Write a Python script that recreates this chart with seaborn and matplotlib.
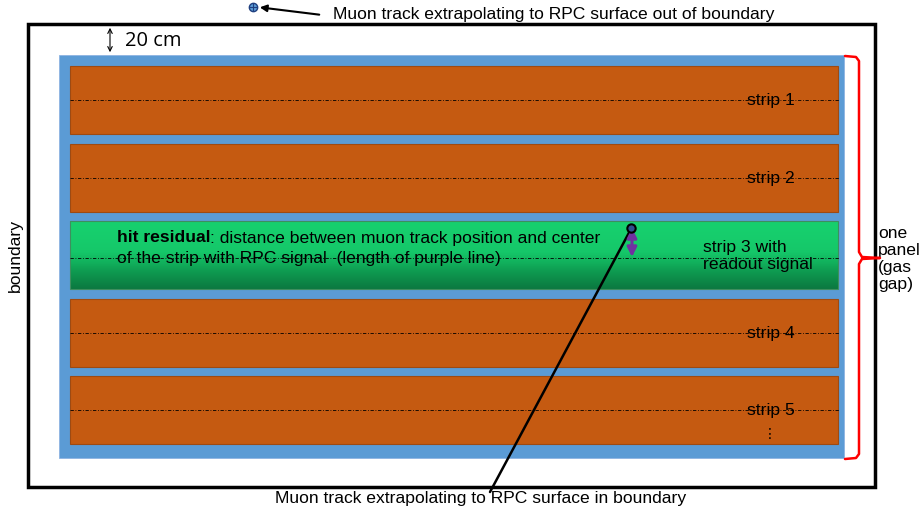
import numpy as np
import matplotlib.pyplot as plt
import seaborn as sns
from matplotlib.patches import Rectangle, FancyArrowPatch
from matplotlib.colors import LinearSegmentedColormap

sns.set_theme(style="white")
plt.rcParams['font.family'] = ['Liberation Sans', 'DejaVu Sans']
plt.rcParams['text.color'] = 'black'

# strip labels, top to bottom; the one with readout signal is highlighted
strip_labels = ["strip 1", "strip 2", "strip 3 with\nreadout signal", "strip 4", "strip 5"]
readout_strip = 2
hit_text_bold = "hit residual"
hit_text = [": distance between muon track position and center",
            "of the strip with RPC signal  (length of purple line)"]
top_note = "Muon track extrapolating to RPC surface out of boundary"
bottom_note = "Muon track extrapolating to RPC surface in boundary"
panel_note = "one\npanel\n(gas\ngap)"

ORANGE = "#C55A11"
BLUE = "#5B9BD5"
PURPLE = "#7030A0"
FS = 12.6

fig = plt.figure(figsize=(9.24, 5.13), dpi=100)
ax = fig.add_axes([0, 0, 1, 1])
ax.set_xlim(0, 924)
ax.set_ylim(513, 0)
ax.axis("off")

# outer boundary
ax.add_patch(Rectangle((28, 24), 847, 463, fill=False, ec="black", lw=2.5, zorder=1))
# blue panel
ax.add_patch(Rectangle((59, 55), 785, 403, fc=BLUE, ec="#8DB4E2", lw=0.6, zorder=2))

# strips
x0, x1 = 70, 838
first_top, pitch, height = 66, 77.5, 68
green = LinearSegmentedColormap.from_list("g", ["#17D06E", "#15C769", "#0E9A50", "#0B7840"])
for i, lab in enumerate(strip_labels):
    top = first_top + i * pitch
    mid = top + height / 2 + (3 if i == readout_strip else 0)
    if i == readout_strip:
        grad = np.linspace(0, 1, 100).reshape(-1, 1) ** 1.4
        ax.imshow(grad, cmap=green, extent=(x0, x1, top + height, top),
                  aspect="auto", zorder=3)
        ax.add_patch(Rectangle((x0, top), x1 - x0, height, fill=False,
                               ec="#3E8E5E", lw=0.8, zorder=4))
        ax.text(703, mid - 2, lab, fontsize=FS, va="center", ha="left",
                linespacing=1.2, zorder=6)
    else:
        ax.add_patch(Rectangle((x0, top), x1 - x0, height, fc=ORANGE,
                               ec="#9E4A12", lw=0.8, zorder=3))
        ax.text(747, mid + 1, lab, fontsize=FS, va="center", ha="left", zorder=6)
    ax.plot([x0, x1 + 2], [mid, mid], color="black", lw=0.6,
            ls=(0, (4, 2, 1, 2)), zorder=5)

# vertical dots under strip 5
ax.text(770, 434, "⋮", fontsize=10, ha="center", va="center", zorder=6)

# hit residual description (bold lead-in, then plain text right after it)
t_bold = ax.text(117, 238, hit_text_bold, fontsize=FS, fontweight="bold",
                 va="center", zorder=6)
fig.canvas.draw()
bb = t_bold.get_window_extent()
x_after = ax.transData.inverted().transform((bb.x1, bb.y0))[0]
ax.text(x_after, 238, hit_text[0], fontsize=FS, va="center", zorder=6)
ax.text(117, 259, hit_text[1], fontsize=FS, va="center", zorder=6)

# track in boundary
ax.plot([490, 631], [492, 229], color="black", lw=1.8, zorder=7)
ax.add_patch(FancyArrowPatch((632, 228), (632, 257), arrowstyle="<|-|>",
                             mutation_scale=14, color=PURPLE, lw=2.2,
                             shrinkA=0, shrinkB=0, zorder=7))
ax.plot([631], [228], marker="o", ms=6, mfc="#2F4F8F", mec="black", mew=1.5, zorder=8)
ax.text(481, 498, bottom_note, fontsize=FS, ha="center", va="center")

# track out of boundary
ax.plot([253], [7], marker="o", ms=6, mfc=BLUE, mec="#1F3F7F", mew=1, zorder=8)
ax.plot([253], [7], marker="+", ms=6, color="#1F3F7F", mew=0.8, zorder=9)
ax.add_patch(FancyArrowPatch((322, 15), (257, 7), arrowstyle="-|>",
                             mutation_scale=10, color="black", lw=1.5, zorder=7))
ax.text(333, 14, top_note, fontsize=FS, ha="left", va="center")

# 20 cm gap
ax.add_patch(FancyArrowPatch((110, 25), (110, 55), arrowstyle="<->",
                             mutation_scale=8, color="black", lw=0.8, zorder=7))
ax.text(125, 41, "20 cm", fontsize=14.5, ha="left", va="center",
        family=["Open Sans", "DejaVu Sans"])

# boundary label
ax.text(15, 255, "boundary", fontsize=FS, rotation=90, ha="center", va="center")

# red brace for one panel
bx = [845, 856, 859, 859, 862, 880, 862, 859, 859, 856, 845]
by = [56, 57, 61, 252, 257, 258, 259, 264, 454, 458, 459]
ax.plot(bx, by, color="red", lw=1.8, zorder=6, solid_joinstyle="round")
ax.text(878, 259, panel_note, fontsize=FS, ha="left", va="center", linespacing=1.15)

fig.savefig("out.png", dpi=100)
